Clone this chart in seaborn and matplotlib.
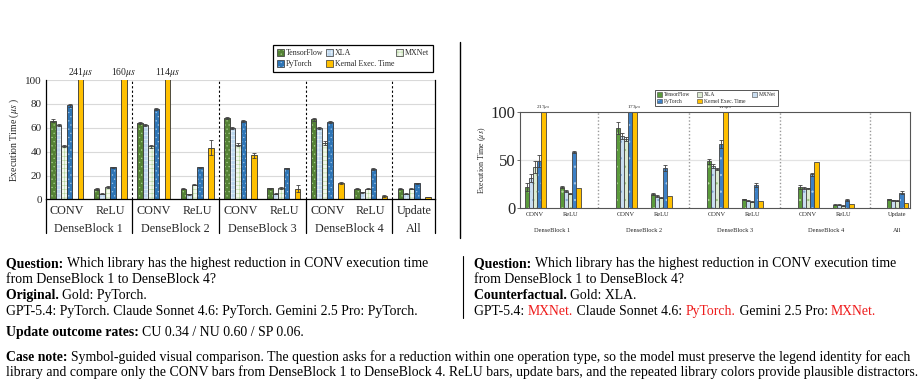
import numpy as np
import pandas as pd
import matplotlib
matplotlib.use("Agg")
import matplotlib.pyplot as plt
import matplotlib.colors as mcolors
import matplotlib.transforms as mtrans
from matplotlib.patches import Patch
from matplotlib.lines import Line2D
import seaborn as sns

# ---- data -------------------------------------------------------------
ops = ["CONV", "ReLU", "CONV", "ReLU", "CONV", "ReLU", "CONV", "ReLU", "Update"]
blocks = ["DenseBlock 1", "DenseBlock 2", "DenseBlock 3", "DenseBlock 4", "All"]

# original chart (left), values in us
orig_tf = [66, 9, 64, 9, 68, 9.5, 67, 9, 9]
orig_xla = [62.5, 5, 62.5, 4.5, 59.5, 5, 59.5, 6, 5]
orig_mx = [45, 10.5, 44.5, 12.5, 46, 9.5, 47.5, 9, 9]
orig_pt = [79, 27, 76, 27, 66, 26, 64.5, 25.5, 13.5]
orig_kernel = [241, 160, 114, 43.5, 37, 9, 14, 3, 2]
orig_err_tf = [1, 1, 1, 0.5, 1, 0.5, 1, 0.5, 0.5]
orig_err_xla = [0.8, 0.8, 0.8, 0.5, 0.8, 0.5, 0.8, 0.5, 0.5]
orig_err_mx = [1, 0.6, 1, 0.6, 1.5, 0.6, 1.5, 0.6, 0.6]
orig_err_pt = [1.2, 0.6, 0.8, 0.6, 0.8, 0.6, 0.8, 0.6, 0.6]
orig_err_kernel = [0, 0, 0, 6.5, 2, 3, 1, 0.5, 0.3]

# counterfactual chart (right)
cf_tf = [22, 22, 83, 15, 48.5, 9.5, 22, 3.5, 9.5]
cf_mx = [31, 18, 75, 13, 43.5, 8, 21, 3.5, 8.5]
cf_xla = [43, 15, 72, 11, 40.5, 7, 20.5, 2.5, 8]
cf_pt = [49, 58, 100, 42, 66.5, 24, 35, 9, 16]
cf_kernel = [217, 21, 173, 13, 119, 8, 48, 4, 5]
cf_err_tf = [4, 1, 6, 1, 3, 0.5, 2, 0.5, 0.5]
cf_err_mx = [4, 1, 3, 1, 2, 0.5, 1, 0.5, 0.5]
cf_err_xla = [6, 0.5, 2, 0.5, 1, 0.5, 1, 0.5, 0.5]
cf_err_pt = [6, 1, 0, 3, 4, 2, 2, 1, 1.5]
cf_err_kernel = [0, 0, 0, 0, 0, 0, 0, 0, 0]

# ---- style ------------------------------------------------------------
sns.set_theme(style="white")
plt.rcParams["font.family"] = ["Liberation Serif", "DejaVu Serif"]
plt.rcParams["mathtext.fontset"] = "stix"
plt.rcParams["hatch.linewidth"] = 0.4

W, H = 922, 388
fig = plt.figure(figsize=(W / 100, H / 100), dpi=100)


def box(x0, y0, x1, y1):
    return [x0 / W, 1 - y1 / H, (x1 - x0) / W, (y1 - y0) / H]


def long_df(pos, series):
    rows = []
    for lib, vals in series.items():
        for p, v in zip(pos, vals):
            rows.append({"x": p, "lib": lib, "val": v})
    return pd.DataFrame(rows)


def style_bars(ax, pos, styles, vals, errs, edge, label_size, lab_off, kernel):
    for p in ax.patches:
        fc = p.get_facecolor()
        lib = None
        for k, (face, hatch, hc) in styles.items():
            if np.allclose(fc, mcolors.to_rgba(face), atol=0.02):
                lib = k
        if lib is None:
            continue
        face, hatch, hc = styles[lib]
        p.set_edgecolor(edge)
        p.set_linewidth(0.6)
        if hatch:
            p.set_hatch(hatch)
            p._hatch_color = mcolors.to_rgba(hc)
        cx = p.get_x() + p.get_width() / 2
        i = int(np.argmin(np.abs(np.array(pos) - cx)))
        v = vals[lib][i]
        e = errs[lib][i]
        if v > 100 and lib == kernel:
            ax.text(cx, 100 + lab_off, f"{int(v)}$\\mu s$", ha="center", va="bottom",
                    fontsize=label_size, clip_on=False, zorder=3)
        elif e > 0 and v < 100:
            ax.errorbar(cx, v, yerr=e, fmt="none", ecolor="#404040",
                        elinewidth=0.6, capsize=1.2, capthick=0.6, zorder=4)


# ---- left chart (original) -------------------------------------------
ax1 = fig.add_axes(box(46, 80, 435, 199.5))
pos1 = list(range(9))
left_order = ["TensorFlow", "XLA", "MXNet", "PyTorch", "gap", "Kernal Exec. Time"]
left_styles = {
    "TensorFlow": ("#548235", "....", "#a9d08e"),
    "XLA": ("#bdd7ee", "++++", "#eef5fc"),
    "MXNet": ("#f3f8ef", "++++", "#b4d79b"),
    "PyTorch": ("#2e75b6", "....", "#9dc3e6"),
    "Kernal Exec. Time": ("#ffc000", "", None),
}
left_vals = {"TensorFlow": orig_tf, "XLA": orig_xla, "MXNet": orig_mx,
             "PyTorch": orig_pt, "Kernal Exec. Time": orig_kernel}
left_errs = {"TensorFlow": orig_err_tf, "XLA": orig_err_xla, "MXNet": orig_err_mx,
             "PyTorch": orig_err_pt, "Kernal Exec. Time": orig_err_kernel}
df1 = long_df(pos1, left_vals)
pal1 = {k: v[0] for k, v in left_styles.items()}
pal1["gap"] = "#ffffff"
sns.barplot(data=df1, x="x", y="val", hue="lib", hue_order=left_order, palette=pal1,
            native_scale=True, width=0.76, errorbar=None, saturation=1,
            legend=False, ax=ax1, zorder=2)
style_bars(ax1, pos1, left_styles, left_vals, left_errs, "#333333", 7, 1.2,
           "Kernal Exec. Time")

ax1.set_xlim(-0.48, 8.48)
ax1.set_ylim(0, 100)
ax1.set_yticks([0, 20, 40, 60, 80, 100])
ax1.yaxis.grid(True, color="#d9d9d9", lw=0.8, zorder=0)
ax1.set_axisbelow(True)
ax1.set_xticks(pos1)
ax1.set_xticklabels(ops, fontsize=8.7)
ax1.tick_params(axis="x", length=0, pad=4)
ax1.tick_params(axis="y", length=0, pad=3, labelsize=8)
ax1.set_xlabel("")
ax1.set_ylabel("Execution Time ($\\mu s$ )", fontsize=7, labelpad=3)
for s in ["left", "right", "bottom"]:
    ax1.spines[s].set_color("black")
    ax1.spines[s].set_linewidth(0.9)
ax1.spines["top"].set_visible(False)
trans1 = mtrans.blended_transform_factory(ax1.transData, ax1.transAxes)
for xs in [1.5, 3.5, 5.5, 7.5]:
    ax1.plot([xs, xs], [0, 1], transform=trans1, color="black", ls=(0, (2, 2)), lw=0.8, zorder=1)
for xs in [-0.48, 1.5, 3.5, 5.5, 7.5, 8.48]:
    ax1.plot([xs, xs], [0, -0.28], transform=trans1, color="black", lw=0.9, clip_on=False)
for xc, name in zip([0.5, 2.5, 4.5, 6.5, 8], blocks):
    ax1.text(xc, -0.243, name, transform=trans1, ha="center", va="center", fontsize=8.7)

h1 = {}
for k, (face, hatch, hc) in left_styles.items():
    ph = Patch(facecolor=face, edgecolor="#333333", linewidth=0.5, hatch=hatch)
    if hatch:
        ph._hatch_color = mcolors.to_rgba(hc)
    h1[k] = ph
leg_order1 = ["TensorFlow", "PyTorch", "XLA", "Kernal Exec. Time", "MXNet"]
leg1 = ax1.legend([h1[k] for k in leg_order1], leg_order1, ncol=3, loc="upper right",
                  bbox_to_anchor=(0.995, 1.29), fontsize=5.7, frameon=True, fancybox=False,
                  edgecolor="black", framealpha=1, handlelength=0.9, handleheight=0.95,
                  handletextpad=0.25, columnspacing=0.25, labelspacing=0.35,
                  borderpad=0.45, borderaxespad=0)
leg1.get_frame().set_linewidth(0.9)

# ---- right chart (counterfactual) ------------------------------------
ax2 = fig.add_axes(box(520, 111.7, 910, 208.3))
pos2 = [0, 1, 2.6, 3.6, 5.2, 6.2, 7.8, 8.8, 10.35]
right_order = ["TensorFlow", "MXNet", "XLA", "PyTorch", "Kernel Exec. Time"]
right_styles = {
    "TensorFlow": ("#5b9b3c", "..", "#b6d99f"),
    "MXNet": ("#c9ddf0", "..", "#7fa6cf"),
    "XLA": ("#dcebd2", "..", "#93bf79"),
    "PyTorch": ("#3c80c6", "..", "#a8cbeb"),
    "Kernel Exec. Time": ("#ffc000", "", None),
}
right_vals = {"TensorFlow": cf_tf, "MXNet": cf_mx, "XLA": cf_xla,
              "PyTorch": cf_pt, "Kernel Exec. Time": cf_kernel}
right_errs = {"TensorFlow": cf_err_tf, "MXNet": cf_err_mx, "XLA": cf_err_xla,
              "PyTorch": cf_err_pt, "Kernel Exec. Time": cf_err_kernel}
df2 = long_df(pos2, right_vals)
pal2 = {k: v[0] for k, v in right_styles.items()}
sns.barplot(data=df2, x="x", y="val", hue="lib", hue_order=right_order, palette=pal2,
            native_scale=True, width=0.6, errorbar=None, saturation=1,
            legend=False, ax=ax2, zorder=2)
style_bars(ax2, pos2, right_styles, right_vals, right_errs, "#444444", 3.8, 0.8,
           "Kernel Exec. Time")

ax2.set_xlim(-0.43, 10.71)
ax2.set_ylim(0, 100)
ax2.set_yticks([0, 50, 100])
ax2.axhline(50, color="#e3e3e3", lw=0.9, zorder=0)
ax2.set_xticks(pos2)
ax2.set_xticklabels(ops, fontsize=4.6)
ax2.tick_params(axis="x", length=0, pad=3)
ax2.tick_params(axis="y", length=2, width=0.6, pad=1, labelsize=12, left=True, color="#555555")
ax2.set_xlabel("")
ax2.set_ylabel("Execution Time ($\\mu s$)", fontsize=5.8, labelpad=2)
for s in ax2.spines.values():
    s.set_color("#555555")
    s.set_linewidth(0.8)
for xs in [1.8, 4.4, 7.0, 9.575]:
    ax2.axvline(xs, color="#999999", ls=(0, (1, 1.5)), lw=1.0, zorder=1)
trans2 = mtrans.blended_transform_factory(ax2.transData, ax2.transAxes)
for xc, name in zip([0.5, 3.1, 5.7, 8.3, 10.35], blocks):
    ax2.text(xc, -0.225, name, transform=trans2, ha="center", va="center", fontsize=4.6)

h2 = {}
for k, (face, hatch, hc) in right_styles.items():
    ph = Patch(facecolor=face, edgecolor="#444444", linewidth=0.4, hatch=hatch)
    if hatch:
        ph._hatch_color = mcolors.to_rgba(hc)
    h2[k] = ph
leg_order2 = ["TensorFlow", "PyTorch", "XLA", "Kernel Exec. Time", "MXNet"]
leg2 = ax2.legend([h2[k] for k in leg_order2], leg_order2, ncol=3, loc="upper right",
                  bbox_to_anchor=(0.6615, 1.225), fontsize=4.0, frameon=True, fancybox=False,
                  edgecolor="#555555", framealpha=1, handlelength=0.9, handleheight=0.9,
                  handletextpad=0.3, columnspacing=1.3, labelspacing=0.25,
                  borderpad=0.35, borderaxespad=0)
leg2.get_frame().set_linewidth(0.7)

# ---- dividers ---------------------------------------------------------
fig.add_artist(Line2D([460 / W, 460 / W], [1 - 42 / H, 1 - 238 / H], color="black", lw=1))
fig.add_artist(Line2D([463 / W, 463 / W], [1 - 256 / H, 1 - 318 / H], color="black", lw=0.8))

# ---- caption text -----------------------------------------------------
renderer = fig.canvas.get_renderer()
TS = 9.95


def text_w(s, bold=False):
    t = fig.text(0, 0, s, fontsize=TS, fontweight="bold" if bold else "normal")
    w = t.get_window_extent(renderer).width
    t.remove()
    return w


def advance(s, bold=False):
    # width of s including trailing spaces; the padding of the probe cancels out
    return text_w(s + "X", bold) - text_w("X", bold)


RED = "#ee1c1c"


def rich_line(x, y, parts):
    for txt, bold, color in parts:
        fig.text(x / W, 1 - y / H, txt, fontsize=TS,
                 fontweight="bold" if bold else "normal", color=color,
                 va="baseline", ha="left")
        x += advance(txt, bold)


K = "black"
for x0, head, gold, answers in [
    (6, "Original. ", "Gold: PyTorch.",
     [("GPT-5.4: PyTorch. Claude Sonnet 4.6: PyTorch. Gemini 2.5 Pro: PyTorch.", False, K)]),
    (474, "Counterfactual. ", "Gold: XLA.",
     [("GPT-5.4: ", False, K), ("MXNet.", False, RED),
      (" Claude Sonnet 4.6: ", False, K), ("PyTorch.", False, RED),
      (" Gemini 2.5 Pro: ", False, K), ("MXNet.", False, RED)]),
]:
    rich_line(x0, 267, [("Question: ", True, K),
                        ("Which library has the highest reduction in CONV execution time", False, K)])
    rich_line(x0, 283, [("from DenseBlock 1 to DenseBlock 4?", False, K)])
    rich_line(x0, 299, [(head, True, K), (gold, False, K)])
    rich_line(x0, 315, answers)

rich_line(6, 336, [("Update outcome rates: ", True, K), ("CU 0.34 / NU 0.60 / SP 0.06.", False, K)])
rich_line(6, 361, [("Case note: ", True, K),
                   ("Symbol-guided visual comparison. The question asks for a reduction within one "
                    "operation type, so the model must preserve the legend identity for each", False, K)])
rich_line(6, 376, [("library and compare only the CONV bars from DenseBlock 1 to DenseBlock 4. "
                    "ReLU bars, update bars, and the repeated library colors provide plausible "
                    "distractors.", False, K)])

fig.savefig("out.png", dpi=100)
